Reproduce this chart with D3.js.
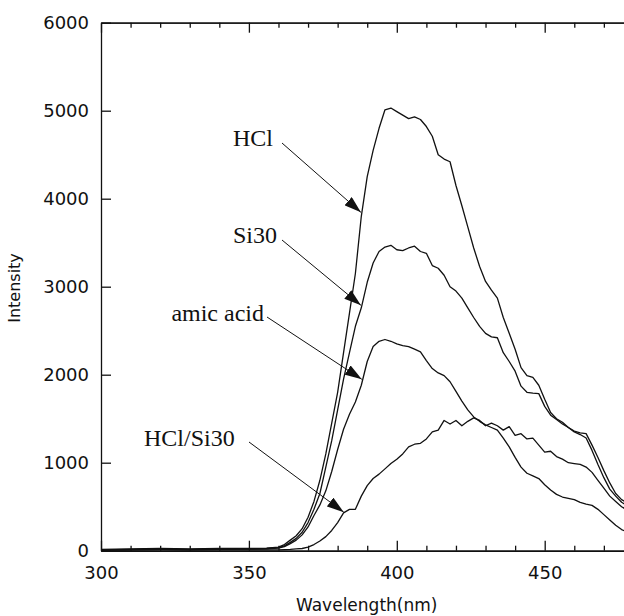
<!DOCTYPE html>
<html><head><meta charset="utf-8">
<script src="https://cdn.jsdelivr.net/npm/d3@7"></script>
<style>body{margin:0;background:#fff}svg{display:block}</style>
</head><body>
<svg id="c" width="624" height="616"></svg>
<script>
const wavelengths = [300,310,320,330,340,350,356,360,362,364,366,368,370,372,374,376,378,380,382,384,386,388,390,392,394,396,398,400,402,404,406,408,410,412,414,416,418,420,422,424,426,428,430,432,434,436,438,440,442,444,446,448,450,452,454,456,458,460,462,464,466,468,470,472,474,476,477];
const hclValues = [15,20,25,20,25,25,30,40,70,120,170,250,380,560,800,1100,1450,1800,2250,2700,3150,3800,4250,4550,4800,5010,5030,4990,4950,4910,4930,4900,4820,4710,4500,4450,4420,4150,3920,3680,3440,3230,3060,2960,2870,2650,2470,2290,2080,1990,1970,1880,1720,1570,1500,1460,1400,1360,1340,1330,1200,1060,910,770,650,580,560];
const si30Values = [10,15,20,15,20,20,25,35,55,95,140,210,320,470,650,950,1250,1600,1950,2250,2550,2760,3050,3270,3400,3450,3470,3420,3410,3440,3460,3400,3380,3240,3210,3130,3000,2950,2870,2760,2650,2550,2470,2430,2420,2250,2150,2040,1870,1800,1790,1785,1640,1540,1490,1440,1400,1350,1320,1280,1140,980,830,700,620,550,530];
const amicValues = [10,12,15,12,15,18,22,30,45,80,120,180,270,400,520,680,900,1150,1380,1550,1690,1880,2150,2320,2380,2400,2380,2350,2330,2320,2290,2260,2160,2070,2020,1990,1920,1810,1700,1600,1520,1470,1430,1400,1370,1280,1180,1060,950,880,850,820,750,690,640,610,595,580,550,530,515,470,410,350,290,240,225];
const hclSi30Values = [5,8,10,8,10,10,10,10,12,15,20,25,40,70,110,160,230,320,430,470,470,620,740,820,870,930,990,1040,1100,1180,1210,1220,1270,1350,1370,1480,1440,1480,1420,1470,1510,1480,1420,1450,1420,1370,1410,1310,1330,1270,1280,1200,1120,1130,1070,1040,1000,990,980,950,890,800,710,620,560,500,480];
const seriesNames = ["HCl","Si30","amic acid","HCl/Si30"];
const xMajorTicks = [300,350,400,450,500];
const xTickLabels = ["300","350","400","450",""];
const yMajorTicks = [0,1000,2000,3000,4000,5000,6000];
// wavelength each annotation arrow points at
const annotWave = [388.2, 388.2, 388.5, 382.4];

const series = [hclValues, si30Values, amicValues, hclSi30Values];

const svg = d3.select("#c");
const x = d3.scaleLinear().domain([300,500]).range([101, 692.6]);
const y = d3.scaleLinear().domain([0,6000]).range([550.7, 22.7]);
const xMinor = d3.range(300, 501, 10).filter(v => v % 50 !== 0);

// curves
const line = d3.line().x((d,i)=>x(wavelengths[i])).y(d=>y(d));
svg.append("g").selectAll("path").data(series).join("path")
  .attr("d", line).attr("fill","none").attr("stroke","#111")
  .attr("stroke-width",1.3).attr("stroke-linejoin","round");

// axes
const axStyle = g => { g.selectAll("path,line").attr("stroke","#111").attr("stroke-width",1.3);
  g.selectAll("text").attr("font-family","DejaVu Sans, sans-serif").attr("font-size",18).attr("fill","#111"); };
svg.append("g").attr("transform",`translate(0,${y(0)})`)
  .call(d3.axisBottom(x).tickValues(xMajorTicks).tickSize(-10).tickSizeOuter(0).tickPadding(16)
    .tickFormat((d,i)=>xTickLabels[i]))
  .call(axStyle).call(g=>g.select(".domain").attr("stroke-width",1.6));
svg.append("g").attr("transform",`translate(0,${y(0)})`)
  .call(d3.axisBottom(x).tickValues(xMinor).tickSize(-5).tickSizeOuter(0).tickFormat(""))
  .call(axStyle);
svg.append("g").attr("transform",`translate(0,${y(6000)})`)
  .call(d3.axisTop(x).tickValues(xMajorTicks).tickSize(-10).tickSizeOuter(0).tickFormat(""))
  .call(axStyle);
svg.append("g").attr("transform",`translate(0,${y(6000)})`)
  .call(d3.axisTop(x).tickValues(xMinor).tickSize(-5).tickSizeOuter(0).tickFormat(""))
  .call(axStyle);
svg.append("g").attr("transform",`translate(${x(300)},0)`)
  .call(d3.axisLeft(y).tickValues(yMajorTicks).tickSize(-10).tickSizeOuter(0).tickPadding(12).tickFormat(d3.format("d")))
  .call(axStyle);

// axis titles
svg.append("text").attr("x",366.7).attr("y",611).attr("text-anchor","middle")
  .attr("font-family","DejaVu Sans, sans-serif").attr("font-size",17).attr("fill","#111").text("Wavelength(nm)");
svg.append("text").attr("transform","translate(20,288) rotate(-90)").attr("text-anchor","middle")
  .attr("font-family","DejaVu Sans, sans-serif").attr("font-size",16).attr("fill","#111").text("Intensity");

// arrow marker
svg.append("defs").append("marker").attr("id","ah").attr("viewBox","0 0 17 11")
  .attr("refX",17).attr("refY",5.5).attr("markerWidth",17).attr("markerHeight",11)
  .attr("markerUnits","userSpaceOnUse").attr("orient","auto")
  .append("path").attr("d","M0,0 L17,5.5 L0,11 Z").attr("fill","#111");

// annotation label positions
const labelPos = [
  {tx:233, ty:146, anchor:"start", sx:282, sy:143},
  {tx:233, ty:243, anchor:"start", sx:282, sy:240},
  {tx:264, ty:321, anchor:"end",   sx:267, sy:317},
  {tx:144, ty:446, anchor:"start", sx:249, sy:442}
];
const annG = svg.append("g");
seriesNames.forEach((name,i)=>{
  const p = labelPos[i];
  const wi = annotWave[i];
  const s = series[i];
  const j = wavelengths.findIndex(w=>w>=wi);
  const t = (wi - wavelengths[j-1])/(wavelengths[j]-wavelengths[j-1]);
  const v = s[j-1] + t*(s[j]-s[j-1]);
  annG.append("text").attr("x",p.tx).attr("y",p.ty).attr("text-anchor",p.anchor)
    .attr("font-family","Liberation Serif, Times New Roman, serif").attr("font-size",24).attr("fill","#111").text(name);
  annG.append("line").attr("x1",p.sx).attr("y1",p.sy).attr("x2",x(wi)-1).attr("y2",y(v))
    .attr("stroke","#111").attr("stroke-width",1).attr("marker-end","url(#ah)");
});
</script>
</body></html>
